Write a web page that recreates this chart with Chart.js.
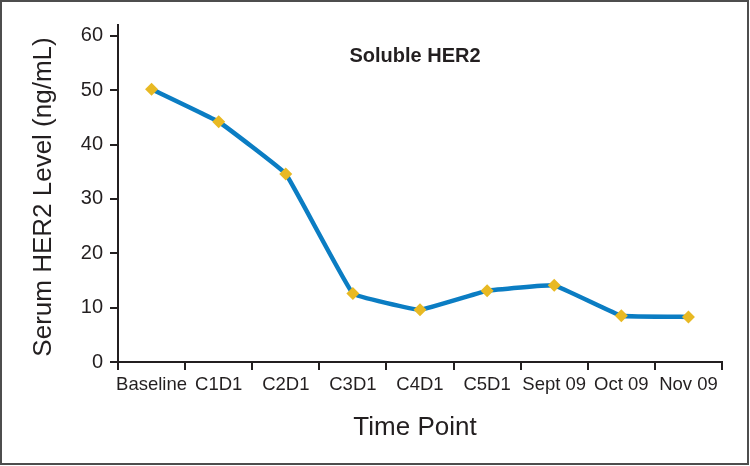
<!DOCTYPE html>
<html>
<head>
<meta charset="utf-8">
<script src="https://cdn.jsdelivr.net/npm/chart.js@4.4.0/dist/chart.umd.min.js"></script>
<style>
  html, body { margin: 0; padding: 0; background: #fff; }
  #wrap { width: 750px; height: 466px; }
</style>
</head>
<body>
<div id="wrap"><canvas id="chart" width="750" height="466"></canvas></div>
<script>
// data
const timePoints = ["Baseline", "C1D1", "C2D1", "C3D1", "C4D1", "C5D1", "Sept 09", "Oct 09", "Nov 09"];
const her2Levels = [50.2, 44.2, 34.6, 12.6, 9.6, 13.1, 14.1, 8.5, 8.3];
const yTicks = [0, 10, 20, 30, 40, 50, 60];

const ink = "#231f20";

// frame + titles drawn on top of the chart
const decor = {
    id: "decor",
    beforeDraw(chart){
        const c = chart.ctx;
        c.save();
        c.fillStyle = "#fff";
        c.fillRect(0, 0, chart.width, chart.height);
        c.restore();
    },
    afterDraw(chart){
        const c = chart.ctx;
        c.save();
        c.strokeStyle = "#4d4d4d";
        c.lineWidth = 2;
        c.strokeRect(1, 1, chart.width - 3, chart.height - 3);

        c.fillStyle = ink;
        c.textAlign = "center";
        c.textBaseline = "middle";

        c.font = "bold 20px 'Liberation Sans', Arial, sans-serif";
        c.fillText("Soluble HER2", 415, 56);

        c.font = "26px 'Liberation Sans', Arial, sans-serif";
        c.fillText("Time Point", 415, 428);

        c.translate(44, 197);
        c.rotate(-Math.PI / 2);
        c.fillText("Serum HER2 Level (ng/mL)", 0, 0);
        c.restore();
    }
};

new Chart(document.getElementById("chart"), {
    type: "line",
    data: {
        labels: timePoints,
        datasets: [{
            data: her2Levels,
            borderColor: "#0b7dc3",
            borderWidth: 4.5,
            tension: 0.07,
            pointStyle: "rectRot",
            pointRadius: 6.5,
            pointBackgroundColor: "#e8b923",
            pointBorderColor: "#e8b923",
            pointBorderWidth: 0
        }]
    },
    options: {
        responsive: false,
        animation: false,
        layout: { padding: { left: 0, right: 28, top: 25, bottom: 0 } },
        plugins: {
            legend: { display: false },
            tooltip: { enabled: false }
        },
        scales: {
            x: {
                type: "category",
                offset: true,
                border: { display: true, color: ink, width: 2 },
                grid: { offset: true, drawOnChartArea: false, drawTicks: true, tickLength: 8, color: ink, lineWidth: 2 },
                ticks: {
                    color: ink,
                    padding: 4,
                    maxRotation: 0,
                    autoSkip: false,
                    font: { family: "'Liberation Sans', Arial, sans-serif", size: 18.5 }
                },
                afterFit(scale){ scale.height = 104; }
            },
            y: {
                min: 0,
                max: 62,
                border: { display: true, color: ink, width: 2 },
                grid: { drawOnChartArea: false, drawTicks: true, tickLength: 8, color: ink, lineWidth: 2 },
                ticks: {
                    stepSize: 10,
                    color: ink,
                    padding: 7,
                    font: { family: "'Liberation Sans', Arial, sans-serif", size: 20 }
                },
                afterBuildTicks(scale){ scale.ticks = yTicks.map(v => ({ value: v })); },
                afterFit(scale){ scale.width = 118; }
            }
        }
    },
    plugins: [decor]
});
</script>
</body>
</html>
